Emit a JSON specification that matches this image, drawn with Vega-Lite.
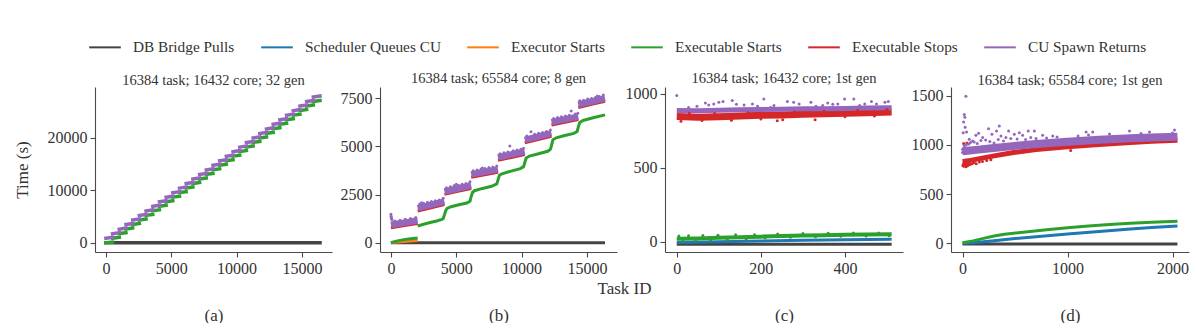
{
"$schema":"https://vega.github.io/schema/vega-lite/v6.json",
"background":"white",
"padding":{"left":13,"top":30,"right":0,"bottom":0},
"config":{
 "font":"Liberation Serif",
 "view":{"stroke":null},
 "axis":{"grid":false,"domainColor":"#4a4a4a","tickColor":"#4a4a4a","labelColor":"#333333","titleColor":"#333333","labelFont":"Liberation Serif","titleFont":"Liberation Serif","labelFontSize":16,"titleFontSize":17,"titleFontWeight":"normal","tickSize":5,"labelPadding":3,"domainWidth":1.1,"tickWidth":1.1},
 "title":{"font":"Liberation Serif","fontSize":14.5,"fontWeight":"normal","color":"#333333","offset":-1,"frame":"group"},
 "style":{"group-title":{"font":"Liberation Serif","fontSize":14.5,"fontWeight":"normal"}},
 "legend":{"labelFont":"Liberation Serif","labelFontSize":15.3,"labelColor":"#333333","labelOffset":11,"columnPadding":22}
},
"data":{"values":[
{"p":"a","s":"DB Bridge Pulls","g":0,"kind":"trend","x":0,"y":0},
{"p":"a","s":"DB Bridge Pulls","g":0,"kind":"trend","x":16383,"y":0},
{"p":"a","s":"Executable Starts","g":0,"kind":"trend","x":0,"y":0},{"p":"a","s":"Executable Starts","g":0,"kind":"trend","x":511,"y":100},
{"p":"a","s":"Executable Starts","g":1,"kind":"trend","x":512,"y":868},{"p":"a","s":"Executable Starts","g":1,"kind":"trend","x":1023,"y":1048},
{"p":"a","s":"Executable Starts","g":2,"kind":"trend","x":1024,"y":1736},{"p":"a","s":"Executable Starts","g":2,"kind":"trend","x":1535,"y":1916},
{"p":"a","s":"Executable Starts","g":3,"kind":"trend","x":1536,"y":2604},{"p":"a","s":"Executable Starts","g":3,"kind":"trend","x":2047,"y":2784},
{"p":"a","s":"Executable Starts","g":4,"kind":"trend","x":2048,"y":3472},{"p":"a","s":"Executable Starts","g":4,"kind":"trend","x":2559,"y":3652},
{"p":"a","s":"Executable Starts","g":5,"kind":"trend","x":2560,"y":4340},{"p":"a","s":"Executable Starts","g":5,"kind":"trend","x":3071,"y":4520},
{"p":"a","s":"Executable Starts","g":6,"kind":"trend","x":3072,"y":5208},{"p":"a","s":"Executable Starts","g":6,"kind":"trend","x":3583,"y":5388},
{"p":"a","s":"Executable Starts","g":7,"kind":"trend","x":3584,"y":6076},{"p":"a","s":"Executable Starts","g":7,"kind":"trend","x":4095,"y":6256},
{"p":"a","s":"Executable Starts","g":8,"kind":"trend","x":4096,"y":6944},{"p":"a","s":"Executable Starts","g":8,"kind":"trend","x":4607,"y":7124},
{"p":"a","s":"Executable Starts","g":9,"kind":"trend","x":4608,"y":7812},{"p":"a","s":"Executable Starts","g":9,"kind":"trend","x":5119,"y":7992},
{"p":"a","s":"Executable Starts","g":10,"kind":"trend","x":5120,"y":8680},{"p":"a","s":"Executable Starts","g":10,"kind":"trend","x":5631,"y":8860},
{"p":"a","s":"Executable Starts","g":11,"kind":"trend","x":5632,"y":9548},{"p":"a","s":"Executable Starts","g":11,"kind":"trend","x":6143,"y":9728},
{"p":"a","s":"Executable Starts","g":12,"kind":"trend","x":6144,"y":10416},{"p":"a","s":"Executable Starts","g":12,"kind":"trend","x":6655,"y":10596},
{"p":"a","s":"Executable Starts","g":13,"kind":"trend","x":6656,"y":11284},{"p":"a","s":"Executable Starts","g":13,"kind":"trend","x":7167,"y":11464},
{"p":"a","s":"Executable Starts","g":14,"kind":"trend","x":7168,"y":12152},{"p":"a","s":"Executable Starts","g":14,"kind":"trend","x":7679,"y":12332},
{"p":"a","s":"Executable Starts","g":15,"kind":"trend","x":7680,"y":13020},{"p":"a","s":"Executable Starts","g":15,"kind":"trend","x":8191,"y":13200},
{"p":"a","s":"Executable Starts","g":16,"kind":"trend","x":8192,"y":13888},{"p":"a","s":"Executable Starts","g":16,"kind":"trend","x":8703,"y":14068},
{"p":"a","s":"Executable Starts","g":17,"kind":"trend","x":8704,"y":14756},{"p":"a","s":"Executable Starts","g":17,"kind":"trend","x":9215,"y":14936},
{"p":"a","s":"Executable Starts","g":18,"kind":"trend","x":9216,"y":15624},{"p":"a","s":"Executable Starts","g":18,"kind":"trend","x":9727,"y":15804},
{"p":"a","s":"Executable Starts","g":19,"kind":"trend","x":9728,"y":16492},{"p":"a","s":"Executable Starts","g":19,"kind":"trend","x":10239,"y":16672},
{"p":"a","s":"Executable Starts","g":20,"kind":"trend","x":10240,"y":17360},{"p":"a","s":"Executable Starts","g":20,"kind":"trend","x":10751,"y":17540},
{"p":"a","s":"Executable Starts","g":21,"kind":"trend","x":10752,"y":18228},{"p":"a","s":"Executable Starts","g":21,"kind":"trend","x":11263,"y":18408},
{"p":"a","s":"Executable Starts","g":22,"kind":"trend","x":11264,"y":19096},{"p":"a","s":"Executable Starts","g":22,"kind":"trend","x":11775,"y":19276},
{"p":"a","s":"Executable Starts","g":23,"kind":"trend","x":11776,"y":19964},{"p":"a","s":"Executable Starts","g":23,"kind":"trend","x":12287,"y":20144},
{"p":"a","s":"Executable Starts","g":24,"kind":"trend","x":12288,"y":20832},{"p":"a","s":"Executable Starts","g":24,"kind":"trend","x":12799,"y":21012},
{"p":"a","s":"Executable Starts","g":25,"kind":"trend","x":12800,"y":21700},{"p":"a","s":"Executable Starts","g":25,"kind":"trend","x":13311,"y":21880},
{"p":"a","s":"Executable Starts","g":26,"kind":"trend","x":13312,"y":22568},{"p":"a","s":"Executable Starts","g":26,"kind":"trend","x":13823,"y":22748},
{"p":"a","s":"Executable Starts","g":27,"kind":"trend","x":13824,"y":23436},{"p":"a","s":"Executable Starts","g":27,"kind":"trend","x":14335,"y":23616},
{"p":"a","s":"Executable Starts","g":28,"kind":"trend","x":14336,"y":24304},{"p":"a","s":"Executable Starts","g":28,"kind":"trend","x":14847,"y":24484},
{"p":"a","s":"Executable Starts","g":29,"kind":"trend","x":14848,"y":25172},{"p":"a","s":"Executable Starts","g":29,"kind":"trend","x":15359,"y":25352},
{"p":"a","s":"Executable Starts","g":30,"kind":"trend","x":15360,"y":26040},{"p":"a","s":"Executable Starts","g":30,"kind":"trend","x":15871,"y":26220},
{"p":"a","s":"Executable Starts","g":31,"kind":"trend","x":15872,"y":26908},{"p":"a","s":"Executable Starts","g":31,"kind":"trend","x":16383,"y":27088},
{"p":"a","s":"CU Spawn Returns","g":0,"kind":"trend","x":0,"y":850},{"p":"a","s":"CU Spawn Returns","g":0,"kind":"trend","x":511,"y":1050},
{"p":"a","s":"CU Spawn Returns","g":1,"kind":"trend","x":512,"y":1718},{"p":"a","s":"CU Spawn Returns","g":1,"kind":"trend","x":1023,"y":1918},
{"p":"a","s":"CU Spawn Returns","g":2,"kind":"trend","x":1024,"y":2586},{"p":"a","s":"CU Spawn Returns","g":2,"kind":"trend","x":1535,"y":2786},
{"p":"a","s":"CU Spawn Returns","g":3,"kind":"trend","x":1536,"y":3454},{"p":"a","s":"CU Spawn Returns","g":3,"kind":"trend","x":2047,"y":3654},
{"p":"a","s":"CU Spawn Returns","g":4,"kind":"trend","x":2048,"y":4322},{"p":"a","s":"CU Spawn Returns","g":4,"kind":"trend","x":2559,"y":4522},
{"p":"a","s":"CU Spawn Returns","g":5,"kind":"trend","x":2560,"y":5190},{"p":"a","s":"CU Spawn Returns","g":5,"kind":"trend","x":3071,"y":5390},
{"p":"a","s":"CU Spawn Returns","g":6,"kind":"trend","x":3072,"y":6058},{"p":"a","s":"CU Spawn Returns","g":6,"kind":"trend","x":3583,"y":6258},
{"p":"a","s":"CU Spawn Returns","g":7,"kind":"trend","x":3584,"y":6926},{"p":"a","s":"CU Spawn Returns","g":7,"kind":"trend","x":4095,"y":7126},
{"p":"a","s":"CU Spawn Returns","g":8,"kind":"trend","x":4096,"y":7794},{"p":"a","s":"CU Spawn Returns","g":8,"kind":"trend","x":4607,"y":7994},
{"p":"a","s":"CU Spawn Returns","g":9,"kind":"trend","x":4608,"y":8662},{"p":"a","s":"CU Spawn Returns","g":9,"kind":"trend","x":5119,"y":8862},
{"p":"a","s":"CU Spawn Returns","g":10,"kind":"trend","x":5120,"y":9530},{"p":"a","s":"CU Spawn Returns","g":10,"kind":"trend","x":5631,"y":9730},
{"p":"a","s":"CU Spawn Returns","g":11,"kind":"trend","x":5632,"y":10398},{"p":"a","s":"CU Spawn Returns","g":11,"kind":"trend","x":6143,"y":10598},
{"p":"a","s":"CU Spawn Returns","g":12,"kind":"trend","x":6144,"y":11266},{"p":"a","s":"CU Spawn Returns","g":12,"kind":"trend","x":6655,"y":11466},
{"p":"a","s":"CU Spawn Returns","g":13,"kind":"trend","x":6656,"y":12134},{"p":"a","s":"CU Spawn Returns","g":13,"kind":"trend","x":7167,"y":12334},
{"p":"a","s":"CU Spawn Returns","g":14,"kind":"trend","x":7168,"y":13002},{"p":"a","s":"CU Spawn Returns","g":14,"kind":"trend","x":7679,"y":13202},
{"p":"a","s":"CU Spawn Returns","g":15,"kind":"trend","x":7680,"y":13870},{"p":"a","s":"CU Spawn Returns","g":15,"kind":"trend","x":8191,"y":14070},
{"p":"a","s":"CU Spawn Returns","g":16,"kind":"trend","x":8192,"y":14738},{"p":"a","s":"CU Spawn Returns","g":16,"kind":"trend","x":8703,"y":14938},
{"p":"a","s":"CU Spawn Returns","g":17,"kind":"trend","x":8704,"y":15606},{"p":"a","s":"CU Spawn Returns","g":17,"kind":"trend","x":9215,"y":15806},
{"p":"a","s":"CU Spawn Returns","g":18,"kind":"trend","x":9216,"y":16474},{"p":"a","s":"CU Spawn Returns","g":18,"kind":"trend","x":9727,"y":16674},
{"p":"a","s":"CU Spawn Returns","g":19,"kind":"trend","x":9728,"y":17342},{"p":"a","s":"CU Spawn Returns","g":19,"kind":"trend","x":10239,"y":17542},
{"p":"a","s":"CU Spawn Returns","g":20,"kind":"trend","x":10240,"y":18210},{"p":"a","s":"CU Spawn Returns","g":20,"kind":"trend","x":10751,"y":18410},
{"p":"a","s":"CU Spawn Returns","g":21,"kind":"trend","x":10752,"y":19078},{"p":"a","s":"CU Spawn Returns","g":21,"kind":"trend","x":11263,"y":19278},
{"p":"a","s":"CU Spawn Returns","g":22,"kind":"trend","x":11264,"y":19946},{"p":"a","s":"CU Spawn Returns","g":22,"kind":"trend","x":11775,"y":20146},
{"p":"a","s":"CU Spawn Returns","g":23,"kind":"trend","x":11776,"y":20814},{"p":"a","s":"CU Spawn Returns","g":23,"kind":"trend","x":12287,"y":21014},
{"p":"a","s":"CU Spawn Returns","g":24,"kind":"trend","x":12288,"y":21682},{"p":"a","s":"CU Spawn Returns","g":24,"kind":"trend","x":12799,"y":21882},
{"p":"a","s":"CU Spawn Returns","g":25,"kind":"trend","x":12800,"y":22550},{"p":"a","s":"CU Spawn Returns","g":25,"kind":"trend","x":13311,"y":22750},
{"p":"a","s":"CU Spawn Returns","g":26,"kind":"trend","x":13312,"y":23418},{"p":"a","s":"CU Spawn Returns","g":26,"kind":"trend","x":13823,"y":23618},
{"p":"a","s":"CU Spawn Returns","g":27,"kind":"trend","x":13824,"y":24286},{"p":"a","s":"CU Spawn Returns","g":27,"kind":"trend","x":14335,"y":24486},
{"p":"a","s":"CU Spawn Returns","g":28,"kind":"trend","x":14336,"y":25154},{"p":"a","s":"CU Spawn Returns","g":28,"kind":"trend","x":14847,"y":25354},
{"p":"a","s":"CU Spawn Returns","g":29,"kind":"trend","x":14848,"y":26022},{"p":"a","s":"CU Spawn Returns","g":29,"kind":"trend","x":15359,"y":26222},
{"p":"a","s":"CU Spawn Returns","g":30,"kind":"trend","x":15360,"y":26890},{"p":"a","s":"CU Spawn Returns","g":30,"kind":"trend","x":15871,"y":27090},
{"p":"a","s":"CU Spawn Returns","g":31,"kind":"trend","x":15872,"y":27758},{"p":"a","s":"CU Spawn Returns","g":31,"kind":"trend","x":16383,"y":27958},

{"p":"b","s":"DB Bridge Pulls","g":0,"kind":"trend","x":0,"y":0},
{"p":"b","s":"DB Bridge Pulls","g":0,"kind":"trend","x":16383,"y":0},
{"p":"b","s":"Executor Starts","g":0,"kind":"trend","x":0,"y":0},
{"p":"b","s":"Executor Starts","g":0,"kind":"trend","x":500,"y":30},
{"p":"b","s":"Executor Starts","g":0,"kind":"trend","x":1000,"y":60},
{"p":"b","s":"Executor Starts","g":0,"kind":"trend","x":1500,"y":90},
{"p":"b","s":"Executor Starts","g":0,"kind":"trend","x":2047,"y":120},
{"p":"b","s":"Executable Starts","g":0,"kind":"trend","x":0,"y":0},
{"p":"b","s":"Executable Starts","g":0,"kind":"trend","x":200,"y":40},
{"p":"b","s":"Executable Starts","g":0,"kind":"trend","x":500,"y":95},
{"p":"b","s":"Executable Starts","g":0,"kind":"trend","x":1000,"y":160},
{"p":"b","s":"Executable Starts","g":0,"kind":"trend","x":1500,"y":210},
{"p":"b","s":"Executable Starts","g":0,"kind":"trend","x":2047,"y":250},
{"p":"b","s":"Executable Starts","g":1,"kind":"trend","x":2048,"y":870},
{"p":"b","s":"Executable Starts","g":1,"kind":"trend","x":2500,"y":960},
{"p":"b","s":"Executable Starts","g":1,"kind":"trend","x":3000,"y":1050},
{"p":"b","s":"Executable Starts","g":1,"kind":"trend","x":3500,"y":1130},
{"p":"b","s":"Executable Starts","g":1,"kind":"trend","x":3900,"y":1210},
{"p":"b","s":"Executable Starts","g":1,"kind":"trend","x":4000,"y":1260},
{"p":"b","s":"Executable Starts","g":1,"kind":"trend","x":4096,"y":1450},
{"p":"b","s":"Executable Starts","g":1,"kind":"trend","x":4200,"y":1680},
{"p":"b","s":"Executable Starts","g":1,"kind":"trend","x":4300,"y":1780},
{"p":"b","s":"Executable Starts","g":1,"kind":"trend","x":4600,"y":1870},
{"p":"b","s":"Executable Starts","g":1,"kind":"trend","x":5200,"y":1970},
{"p":"b","s":"Executable Starts","g":1,"kind":"trend","x":5800,"y":2060},
{"p":"b","s":"Executable Starts","g":1,"kind":"trend","x":6050,"y":2150},
{"p":"b","s":"Executable Starts","g":1,"kind":"trend","x":6144,"y":2400},
{"p":"b","s":"Executable Starts","g":1,"kind":"trend","x":6250,"y":2620},
{"p":"b","s":"Executable Starts","g":1,"kind":"trend","x":6400,"y":2700},
{"p":"b","s":"Executable Starts","g":1,"kind":"trend","x":7000,"y":2820},
{"p":"b","s":"Executable Starts","g":1,"kind":"trend","x":7700,"y":2930},
{"p":"b","s":"Executable Starts","g":1,"kind":"trend","x":8100,"y":3050},
{"p":"b","s":"Executable Starts","g":1,"kind":"trend","x":8192,"y":3250},
{"p":"b","s":"Executable Starts","g":1,"kind":"trend","x":8300,"y":3500},
{"p":"b","s":"Executable Starts","g":1,"kind":"trend","x":8500,"y":3580},
{"p":"b","s":"Executable Starts","g":1,"kind":"trend","x":9200,"y":3720},
{"p":"b","s":"Executable Starts","g":1,"kind":"trend","x":9900,"y":3850},
{"p":"b","s":"Executable Starts","g":1,"kind":"trend","x":10150,"y":3950},
{"p":"b","s":"Executable Starts","g":1,"kind":"trend","x":10240,"y":4150},
{"p":"b","s":"Executable Starts","g":1,"kind":"trend","x":10350,"y":4400},
{"p":"b","s":"Executable Starts","g":1,"kind":"trend","x":10600,"y":4500},
{"p":"b","s":"Executable Starts","g":1,"kind":"trend","x":11300,"y":4620},
{"p":"b","s":"Executable Starts","g":1,"kind":"trend","x":12000,"y":4750},
{"p":"b","s":"Executable Starts","g":1,"kind":"trend","x":12200,"y":4850},
{"p":"b","s":"Executable Starts","g":1,"kind":"trend","x":12288,"y":5050},
{"p":"b","s":"Executable Starts","g":1,"kind":"trend","x":12400,"y":5350},
{"p":"b","s":"Executable Starts","g":1,"kind":"trend","x":12650,"y":5450},
{"p":"b","s":"Executable Starts","g":1,"kind":"trend","x":13300,"y":5570},
{"p":"b","s":"Executable Starts","g":1,"kind":"trend","x":14000,"y":5680},
{"p":"b","s":"Executable Starts","g":1,"kind":"trend","x":14250,"y":5780},
{"p":"b","s":"Executable Starts","g":1,"kind":"trend","x":14336,"y":6000},
{"p":"b","s":"Executable Starts","g":1,"kind":"trend","x":14450,"y":6250},
{"p":"b","s":"Executable Starts","g":1,"kind":"trend","x":14700,"y":6350},
{"p":"b","s":"Executable Starts","g":1,"kind":"trend","x":15400,"y":6480},
{"p":"b","s":"Executable Starts","g":1,"kind":"trend","x":16383,"y":6640},
{"p":"b","s":"Executable Stops","g":0,"kind":"trend","x":0,"y":780},{"p":"b","s":"Executable Stops","g":0,"kind":"trend","x":1024,"y":890},{"p":"b","s":"Executable Stops","g":0,"kind":"trend","x":2047,"y":1000},
{"p":"b","s":"Executable Stops","g":1,"kind":"trend","x":2048,"y":1650},{"p":"b","s":"Executable Stops","g":1,"kind":"trend","x":3072,"y":1815},{"p":"b","s":"Executable Stops","g":1,"kind":"trend","x":4095,"y":1980},
{"p":"b","s":"Executable Stops","g":2,"kind":"trend","x":4096,"y":2510},{"p":"b","s":"Executable Stops","g":2,"kind":"trend","x":5120,"y":2665},{"p":"b","s":"Executable Stops","g":2,"kind":"trend","x":6143,"y":2820},
{"p":"b","s":"Executable Stops","g":3,"kind":"trend","x":6144,"y":3400},{"p":"b","s":"Executable Stops","g":3,"kind":"trend","x":7168,"y":3530},{"p":"b","s":"Executable Stops","g":3,"kind":"trend","x":8191,"y":3660},
{"p":"b","s":"Executable Stops","g":4,"kind":"trend","x":8192,"y":4280},{"p":"b","s":"Executable Stops","g":4,"kind":"trend","x":9216,"y":4430},{"p":"b","s":"Executable Stops","g":4,"kind":"trend","x":10239,"y":4580},
{"p":"b","s":"Executable Stops","g":5,"kind":"trend","x":10240,"y":5190},{"p":"b","s":"Executable Stops","g":5,"kind":"trend","x":11264,"y":5360},{"p":"b","s":"Executable Stops","g":5,"kind":"trend","x":12287,"y":5530},
{"p":"b","s":"Executable Stops","g":6,"kind":"trend","x":12288,"y":6110},{"p":"b","s":"Executable Stops","g":6,"kind":"trend","x":13312,"y":6255},{"p":"b","s":"Executable Stops","g":6,"kind":"trend","x":14335,"y":6400},
{"p":"b","s":"Executable Stops","g":7,"kind":"trend","x":14336,"y":7020},{"p":"b","s":"Executable Stops","g":7,"kind":"trend","x":15360,"y":7185},{"p":"b","s":"Executable Stops","g":7,"kind":"trend","x":16383,"y":7350},
{"p":"b","s":"CU Spawn Returns","g":0,"kind":"trend","x":0,"y":930},{"p":"b","s":"CU Spawn Returns","g":0,"kind":"trend","x":1024,"y":1040},{"p":"b","s":"CU Spawn Returns","g":0,"kind":"trend","x":2047,"y":1150},
{"p":"b","s":"CU Spawn Returns","g":1,"kind":"trend","x":2048,"y":1800},{"p":"b","s":"CU Spawn Returns","g":1,"kind":"trend","x":3072,"y":1965},{"p":"b","s":"CU Spawn Returns","g":1,"kind":"trend","x":4095,"y":2130},
{"p":"b","s":"CU Spawn Returns","g":2,"kind":"trend","x":4096,"y":2660},{"p":"b","s":"CU Spawn Returns","g":2,"kind":"trend","x":5120,"y":2815},{"p":"b","s":"CU Spawn Returns","g":2,"kind":"trend","x":6143,"y":2970},
{"p":"b","s":"CU Spawn Returns","g":3,"kind":"trend","x":6144,"y":3550},{"p":"b","s":"CU Spawn Returns","g":3,"kind":"trend","x":7168,"y":3680},{"p":"b","s":"CU Spawn Returns","g":3,"kind":"trend","x":8191,"y":3810},
{"p":"b","s":"CU Spawn Returns","g":4,"kind":"trend","x":8192,"y":4430},{"p":"b","s":"CU Spawn Returns","g":4,"kind":"trend","x":9216,"y":4580},{"p":"b","s":"CU Spawn Returns","g":4,"kind":"trend","x":10239,"y":4730},
{"p":"b","s":"CU Spawn Returns","g":5,"kind":"trend","x":10240,"y":5340},{"p":"b","s":"CU Spawn Returns","g":5,"kind":"trend","x":11264,"y":5510},{"p":"b","s":"CU Spawn Returns","g":5,"kind":"trend","x":12287,"y":5680},
{"p":"b","s":"CU Spawn Returns","g":6,"kind":"trend","x":12288,"y":6260},{"p":"b","s":"CU Spawn Returns","g":6,"kind":"trend","x":13312,"y":6405},{"p":"b","s":"CU Spawn Returns","g":6,"kind":"trend","x":14335,"y":6550},
{"p":"b","s":"CU Spawn Returns","g":7,"kind":"trend","x":14336,"y":7170},{"p":"b","s":"CU Spawn Returns","g":7,"kind":"trend","x":15360,"y":7335},{"p":"b","s":"CU Spawn Returns","g":7,"kind":"trend","x":16383,"y":7500},
{"p":"b","s":"CU Spawn Returns","kind":"dot","x":0,"y":1480},{"p":"b","s":"CU Spawn Returns","kind":"dot","x":15,"y":1380},{"p":"b","s":"CU Spawn Returns","kind":"dot","x":30,"y":1300},{"p":"b","s":"CU Spawn Returns","kind":"dot","x":50,"y":1250},{"p":"b","s":"CU Spawn Returns","kind":"dot","x":80,"y":1200},
{"p":"b","s":"CU Spawn Returns","kind":"dot","x":300,"y":1130},{"p":"b","s":"CU Spawn Returns","kind":"dot","x":700,"y":1170},{"p":"b","s":"CU Spawn Returns","kind":"dot","x":1100,"y":1220},{"p":"b","s":"CU Spawn Returns","kind":"dot","x":1500,"y":1260},{"p":"b","s":"CU Spawn Returns","kind":"dot","x":1900,"y":1310},
{"p":"b","s":"CU Spawn Returns","kind":"dot","x":2200,"y":2010},{"p":"b","s":"CU Spawn Returns","kind":"dot","x":2350,"y":2080},{"p":"b","s":"CU Spawn Returns","kind":"dot","x":2500,"y":2050},{"p":"b","s":"CU Spawn Returns","kind":"dot","x":2800,"y":2100},{"p":"b","s":"CU Spawn Returns","kind":"dot","x":3100,"y":2140},{"p":"b","s":"CU Spawn Returns","kind":"dot","x":3400,"y":2180},{"p":"b","s":"CU Spawn Returns","kind":"dot","x":3700,"y":2220},{"p":"b","s":"CU Spawn Returns","kind":"dot","x":4000,"y":2310},
{"p":"b","s":"CU Spawn Returns","kind":"dot","x":4250,"y":2860},{"p":"b","s":"CU Spawn Returns","kind":"dot","x":4550,"y":2900},{"p":"b","s":"CU Spawn Returns","kind":"dot","x":4850,"y":2970},{"p":"b","s":"CU Spawn Returns","kind":"dot","x":5000,"y":3030},{"p":"b","s":"CU Spawn Returns","kind":"dot","x":5150,"y":2990},{"p":"b","s":"CU Spawn Returns","kind":"dot","x":5450,"y":3040},{"p":"b","s":"CU Spawn Returns","kind":"dot","x":5750,"y":3080},{"p":"b","s":"CU Spawn Returns","kind":"dot","x":6050,"y":3160},
{"p":"b","s":"CU Spawn Returns","kind":"dot","x":6300,"y":3740},{"p":"b","s":"CU Spawn Returns","kind":"dot","x":6600,"y":3780},{"p":"b","s":"CU Spawn Returns","kind":"dot","x":6900,"y":3830},{"p":"b","s":"CU Spawn Returns","kind":"dot","x":7000,"y":3880},{"p":"b","s":"CU Spawn Returns","kind":"dot","x":7200,"y":3860},{"p":"b","s":"CU Spawn Returns","kind":"dot","x":7500,"y":3910},{"p":"b","s":"CU Spawn Returns","kind":"dot","x":7800,"y":3930},{"p":"b","s":"CU Spawn Returns","kind":"dot","x":8100,"y":3990},
{"p":"b","s":"CU Spawn Returns","kind":"dot","x":8350,"y":4620},{"p":"b","s":"CU Spawn Returns","kind":"dot","x":8650,"y":4670},{"p":"b","s":"CU Spawn Returns","kind":"dot","x":8950,"y":4710},{"p":"b","s":"CU Spawn Returns","kind":"dot","x":9100,"y":5020},{"p":"b","s":"CU Spawn Returns","kind":"dot","x":9350,"y":4780},{"p":"b","s":"CU Spawn Returns","kind":"dot","x":9650,"y":4810},{"p":"b","s":"CU Spawn Returns","kind":"dot","x":9950,"y":4860},{"p":"b","s":"CU Spawn Returns","kind":"dot","x":10150,"y":4910},
{"p":"b","s":"CU Spawn Returns","kind":"dot","x":10400,"y":5540},{"p":"b","s":"CU Spawn Returns","kind":"dot","x":10718,"y":5768},{"p":"b","s":"CU Spawn Returns","kind":"dot","x":11000,"y":5640},{"p":"b","s":"CU Spawn Returns","kind":"dot","x":11300,"y":5680},{"p":"b","s":"CU Spawn Returns","kind":"dot","x":11600,"y":5730},{"p":"b","s":"CU Spawn Returns","kind":"dot","x":11900,"y":5780},{"p":"b","s":"CU Spawn Returns","kind":"dot","x":12200,"y":5850},
{"p":"b","s":"CU Spawn Returns","kind":"dot","x":12450,"y":6450},{"p":"b","s":"CU Spawn Returns","kind":"dot","x":12750,"y":6500},{"p":"b","s":"CU Spawn Returns","kind":"dot","x":13050,"y":6540},{"p":"b","s":"CU Spawn Returns","kind":"dot","x":13350,"y":6580},{"p":"b","s":"CU Spawn Returns","kind":"dot","x":13650,"y":6620},{"p":"b","s":"CU Spawn Returns","kind":"dot","x":13794,"y":6840},{"p":"b","s":"CU Spawn Returns","kind":"dot","x":14100,"y":6680},{"p":"b","s":"CU Spawn Returns","kind":"dot","x":14300,"y":6730},
{"p":"b","s":"CU Spawn Returns","kind":"dot","x":14450,"y":7370},{"p":"b","s":"CU Spawn Returns","kind":"dot","x":14750,"y":7400},{"p":"b","s":"CU Spawn Returns","kind":"dot","x":15050,"y":7460},{"p":"b","s":"CU Spawn Returns","kind":"dot","x":15350,"y":7490},{"p":"b","s":"CU Spawn Returns","kind":"dot","x":15650,"y":7540},{"p":"b","s":"CU Spawn Returns","kind":"dot","x":15800,"y":7620},{"p":"b","s":"CU Spawn Returns","kind":"dot","x":15950,"y":7600},{"p":"b","s":"CU Spawn Returns","kind":"dot","x":16250,"y":7670},

{"p":"c","s":"DB Bridge Pulls","g":0,"kind":"trend","x":0,"y":-17},
{"p":"c","s":"DB Bridge Pulls","g":0,"kind":"trend","x":511,"y":-17},
{"p":"c","s":"Scheduler Queues CU","g":0,"kind":"trend","x":0,"y":-6},{"p":"c","s":"Scheduler Queues CU","g":0,"kind":"trend","x":100,"y":-1},{"p":"c","s":"Scheduler Queues CU","g":0,"kind":"trend","x":200,"y":4},{"p":"c","s":"Scheduler Queues CU","g":0,"kind":"trend","x":300,"y":9},{"p":"c","s":"Scheduler Queues CU","g":0,"kind":"trend","x":400,"y":13},{"p":"c","s":"Scheduler Queues CU","g":0,"kind":"trend","x":511,"y":17},
{"p":"c","s":"Executable Starts","g":0,"kind":"trend","x":0,"y":20},{"p":"c","s":"Executable Starts","g":0,"kind":"trend","x":50,"y":22},{"p":"c","s":"Executable Starts","g":0,"kind":"trend","x":100,"y":27},{"p":"c","s":"Executable Starts","g":0,"kind":"trend","x":150,"y":30},{"p":"c","s":"Executable Starts","g":0,"kind":"trend","x":200,"y":34},{"p":"c","s":"Executable Starts","g":0,"kind":"trend","x":250,"y":38},{"p":"c","s":"Executable Starts","g":0,"kind":"trend","x":300,"y":42},{"p":"c","s":"Executable Starts","g":0,"kind":"trend","x":350,"y":44},{"p":"c","s":"Executable Starts","g":0,"kind":"trend","x":400,"y":46},{"p":"c","s":"Executable Starts","g":0,"kind":"trend","x":450,"y":48},{"p":"c","s":"Executable Starts","g":0,"kind":"trend","x":511,"y":50},
{"p":"c","s":"Executable Stops","g":0,"kind":"trend","x":0,"y":848},{"p":"c","s":"Executable Stops","g":0,"kind":"trend","x":50,"y":842},{"p":"c","s":"Executable Stops","g":0,"kind":"trend","x":100,"y":845},{"p":"c","s":"Executable Stops","g":0,"kind":"trend","x":150,"y":850},{"p":"c","s":"Executable Stops","g":0,"kind":"trend","x":200,"y":855},{"p":"c","s":"Executable Stops","g":0,"kind":"trend","x":250,"y":858},{"p":"c","s":"Executable Stops","g":0,"kind":"trend","x":300,"y":862},{"p":"c","s":"Executable Stops","g":0,"kind":"trend","x":350,"y":866},{"p":"c","s":"Executable Stops","g":0,"kind":"trend","x":400,"y":869},{"p":"c","s":"Executable Stops","g":0,"kind":"trend","x":450,"y":873},{"p":"c","s":"Executable Stops","g":0,"kind":"trend","x":511,"y":878},
{"p":"c","s":"CU Spawn Returns","g":0,"kind":"trend","x":0,"y":888},{"p":"c","s":"CU Spawn Returns","g":0,"kind":"trend","x":50,"y":886},{"p":"c","s":"CU Spawn Returns","g":0,"kind":"trend","x":100,"y":890},{"p":"c","s":"CU Spawn Returns","g":0,"kind":"trend","x":150,"y":893},{"p":"c","s":"CU Spawn Returns","g":0,"kind":"trend","x":200,"y":895},{"p":"c","s":"CU Spawn Returns","g":0,"kind":"trend","x":250,"y":897},{"p":"c","s":"CU Spawn Returns","g":0,"kind":"trend","x":300,"y":899},{"p":"c","s":"CU Spawn Returns","g":0,"kind":"trend","x":350,"y":900},{"p":"c","s":"CU Spawn Returns","g":0,"kind":"trend","x":400,"y":902},{"p":"c","s":"CU Spawn Returns","g":0,"kind":"trend","x":450,"y":904},{"p":"c","s":"CU Spawn Returns","g":0,"kind":"trend","x":511,"y":906},
{"p":"c","s":"Executable Starts","kind":"dot","x":5,"y":38},{"p":"c","s":"Executable Starts","kind":"dot","x":15,"y":5},{"p":"c","s":"Executable Starts","kind":"dot","x":28,"y":40},{"p":"c","s":"Executable Starts","kind":"dot","x":45,"y":8},{"p":"c","s":"Executable Starts","kind":"dot","x":62,"y":42},{"p":"c","s":"Executable Starts","kind":"dot","x":80,"y":10},{"p":"c","s":"Executable Starts","kind":"dot","x":98,"y":44},{"p":"c","s":"Executable Starts","kind":"dot","x":120,"y":15},{"p":"c","s":"Executable Starts","kind":"dot","x":140,"y":46},{"p":"c","s":"Executable Starts","kind":"dot","x":165,"y":18},{"p":"c","s":"Executable Starts","kind":"dot","x":185,"y":47},{"p":"c","s":"Executable Starts","kind":"dot","x":210,"y":25},{"p":"c","s":"Executable Starts","kind":"dot","x":240,"y":52},{"p":"c","s":"Executable Starts","kind":"dot","x":270,"y":30},{"p":"c","s":"Executable Starts","kind":"dot","x":300,"y":56},{"p":"c","s":"Executable Starts","kind":"dot","x":330,"y":33},{"p":"c","s":"Executable Starts","kind":"dot","x":360,"y":57},{"p":"c","s":"Executable Starts","kind":"dot","x":390,"y":36},{"p":"c","s":"Executable Starts","kind":"dot","x":420,"y":58},{"p":"c","s":"Executable Starts","kind":"dot","x":450,"y":38},{"p":"c","s":"Executable Starts","kind":"dot","x":480,"y":59},{"p":"c","s":"Executable Starts","kind":"dot","x":505,"y":40},
{"p":"c","s":"Executable Stops","kind":"dot","x":10,"y":815},{"p":"c","s":"Executable Stops","kind":"dot","x":30,"y":870},{"p":"c","s":"Executable Stops","kind":"dot","x":60,"y":820},{"p":"c","s":"Executable Stops","kind":"dot","x":90,"y":868},{"p":"c","s":"Executable Stops","kind":"dot","x":130,"y":822},{"p":"c","s":"Executable Stops","kind":"dot","x":170,"y":872},{"p":"c","s":"Executable Stops","kind":"dot","x":200,"y":830},{"p":"c","s":"Executable Stops","kind":"dot","x":239,"y":819},{"p":"c","s":"Executable Stops","kind":"dot","x":252,"y":826},{"p":"c","s":"Executable Stops","kind":"dot","x":280,"y":878},{"p":"c","s":"Executable Stops","kind":"dot","x":329,"y":826},{"p":"c","s":"Executable Stops","kind":"dot","x":350,"y":882},{"p":"c","s":"Executable Stops","kind":"dot","x":400,"y":845},{"p":"c","s":"Executable Stops","kind":"dot","x":430,"y":888},{"p":"c","s":"Executable Stops","kind":"dot","x":470,"y":850},{"p":"c","s":"Executable Stops","kind":"dot","x":500,"y":895},
{"p":"c","s":"CU Spawn Returns","kind":"dot","x":0,"y":989},{"p":"c","s":"CU Spawn Returns","kind":"dot","x":28,"y":909},{"p":"c","s":"CU Spawn Returns","kind":"dot","x":48,"y":916},{"p":"c","s":"CU Spawn Returns","kind":"dot","x":68,"y":939},{"p":"c","s":"CU Spawn Returns","kind":"dot","x":76,"y":925},{"p":"c","s":"CU Spawn Returns","kind":"dot","x":88,"y":932},{"p":"c","s":"CU Spawn Returns","kind":"dot","x":100,"y":943},{"p":"c","s":"CU Spawn Returns","kind":"dot","x":110,"y":948},{"p":"c","s":"CU Spawn Returns","kind":"dot","x":132,"y":955},{"p":"c","s":"CU Spawn Returns","kind":"dot","x":142,"y":930},{"p":"c","s":"CU Spawn Returns","kind":"dot","x":160,"y":925},{"p":"c","s":"CU Spawn Returns","kind":"dot","x":180,"y":932},{"p":"c","s":"CU Spawn Returns","kind":"dot","x":192,"y":916},{"p":"c","s":"CU Spawn Returns","kind":"dot","x":207,"y":966},{"p":"c","s":"CU Spawn Returns","kind":"dot","x":223,"y":909},{"p":"c","s":"CU Spawn Returns","kind":"dot","x":231,"y":921},{"p":"c","s":"CU Spawn Returns","kind":"dot","x":263,"y":948},{"p":"c","s":"CU Spawn Returns","kind":"dot","x":278,"y":943},{"p":"c","s":"CU Spawn Returns","kind":"dot","x":291,"y":932},{"p":"c","s":"CU Spawn Returns","kind":"dot","x":319,"y":943},{"p":"c","s":"CU Spawn Returns","kind":"dot","x":331,"y":916},{"p":"c","s":"CU Spawn Returns","kind":"dot","x":347,"y":921},{"p":"c","s":"CU Spawn Returns","kind":"dot","x":359,"y":939},{"p":"c","s":"CU Spawn Returns","kind":"dot","x":371,"y":930},{"p":"c","s":"CU Spawn Returns","kind":"dot","x":383,"y":932},{"p":"c","s":"CU Spawn Returns","kind":"dot","x":399,"y":966},{"p":"c","s":"CU Spawn Returns","kind":"dot","x":421,"y":966},{"p":"c","s":"CU Spawn Returns","kind":"dot","x":435,"y":921},{"p":"c","s":"CU Spawn Returns","kind":"dot","x":447,"y":932},{"p":"c","s":"CU Spawn Returns","kind":"dot","x":463,"y":948},{"p":"c","s":"CU Spawn Returns","kind":"dot","x":475,"y":932},{"p":"c","s":"CU Spawn Returns","kind":"dot","x":495,"y":943},{"p":"c","s":"CU Spawn Returns","kind":"dot","x":503,"y":948},

{"p":"d","s":"DB Bridge Pulls","g":0,"kind":"trend","x":0,"y":-8},
{"p":"d","s":"DB Bridge Pulls","g":0,"kind":"trend","x":2047,"y":-8},
{"p":"d","s":"Scheduler Queues CU","g":0,"kind":"trend","x":0,"y":0},{"p":"d","s":"Scheduler Queues CU","g":0,"kind":"trend","x":100,"y":5},{"p":"d","s":"Scheduler Queues CU","g":0,"kind":"trend","x":200,"y":15},{"p":"d","s":"Scheduler Queues CU","g":0,"kind":"trend","x":300,"y":27},{"p":"d","s":"Scheduler Queues CU","g":0,"kind":"trend","x":500,"y":48},{"p":"d","s":"Scheduler Queues CU","g":0,"kind":"trend","x":700,"y":67},{"p":"d","s":"Scheduler Queues CU","g":0,"kind":"trend","x":1000,"y":94},{"p":"d","s":"Scheduler Queues CU","g":0,"kind":"trend","x":1300,"y":121},{"p":"d","s":"Scheduler Queues CU","g":0,"kind":"trend","x":1600,"y":146},{"p":"d","s":"Scheduler Queues CU","g":0,"kind":"trend","x":1800,"y":162},{"p":"d","s":"Scheduler Queues CU","g":0,"kind":"trend","x":2047,"y":177},
{"p":"d","s":"Executable Starts","g":0,"kind":"trend","x":0,"y":5},{"p":"d","s":"Executable Starts","g":0,"kind":"trend","x":100,"y":25},{"p":"d","s":"Executable Starts","g":0,"kind":"trend","x":200,"y":50},{"p":"d","s":"Executable Starts","g":0,"kind":"trend","x":300,"y":75},{"p":"d","s":"Executable Starts","g":0,"kind":"trend","x":400,"y":92},{"p":"d","s":"Executable Starts","g":0,"kind":"trend","x":600,"y":116},{"p":"d","s":"Executable Starts","g":0,"kind":"trend","x":800,"y":138},{"p":"d","s":"Executable Starts","g":0,"kind":"trend","x":1000,"y":158},{"p":"d","s":"Executable Starts","g":0,"kind":"trend","x":1200,"y":176},{"p":"d","s":"Executable Starts","g":0,"kind":"trend","x":1400,"y":191},{"p":"d","s":"Executable Starts","g":0,"kind":"trend","x":1600,"y":204},{"p":"d","s":"Executable Starts","g":0,"kind":"trend","x":1800,"y":214},{"p":"d","s":"Executable Starts","g":0,"kind":"trend","x":2047,"y":225},
{"p":"d","s":"Executable Stops","g":0,"kind":"trend","x":0,"y":830},{"p":"d","s":"Executable Stops","g":0,"kind":"trend","x":50,"y":838},{"p":"d","s":"Executable Stops","g":0,"kind":"trend","x":150,"y":858},{"p":"d","s":"Executable Stops","g":0,"kind":"trend","x":300,"y":888},{"p":"d","s":"Executable Stops","g":0,"kind":"trend","x":500,"y":925},{"p":"d","s":"Executable Stops","g":0,"kind":"trend","x":700,"y":952},{"p":"d","s":"Executable Stops","g":0,"kind":"trend","x":1000,"y":982},{"p":"d","s":"Executable Stops","g":0,"kind":"trend","x":1300,"y":1005},{"p":"d","s":"Executable Stops","g":0,"kind":"trend","x":1600,"y":1025},{"p":"d","s":"Executable Stops","g":0,"kind":"trend","x":1800,"y":1036},{"p":"d","s":"Executable Stops","g":0,"kind":"trend","x":2047,"y":1048},
{"p":"d","s":"CU Spawn Returns","g":0,"kind":"trend","x":0,"y":935},{"p":"d","s":"CU Spawn Returns","g":0,"kind":"trend","x":50,"y":940},{"p":"d","s":"CU Spawn Returns","g":0,"kind":"trend","x":150,"y":952},{"p":"d","s":"CU Spawn Returns","g":0,"kind":"trend","x":300,"y":968},{"p":"d","s":"CU Spawn Returns","g":0,"kind":"trend","x":500,"y":990},{"p":"d","s":"CU Spawn Returns","g":0,"kind":"trend","x":700,"y":1008},{"p":"d","s":"CU Spawn Returns","g":0,"kind":"trend","x":1000,"y":1032},{"p":"d","s":"CU Spawn Returns","g":0,"kind":"trend","x":1300,"y":1052},{"p":"d","s":"CU Spawn Returns","g":0,"kind":"trend","x":1600,"y":1067},{"p":"d","s":"CU Spawn Returns","g":0,"kind":"trend","x":1800,"y":1074},{"p":"d","s":"CU Spawn Returns","g":0,"kind":"trend","x":2047,"y":1082},
{"p":"d","s":"Executable Stops","kind":"dot","x":3,"y":790},{"p":"d","s":"Executable Stops","kind":"dot","x":8,"y":805},{"p":"d","s":"Executable Stops","kind":"dot","x":12,"y":782},{"p":"d","s":"Executable Stops","kind":"dot","x":18,"y":812},{"p":"d","s":"Executable Stops","kind":"dot","x":25,"y":795},{"p":"d","s":"Executable Stops","kind":"dot","x":33,"y":778},{"p":"d","s":"Executable Stops","kind":"dot","x":40,"y":800},{"p":"d","s":"Executable Stops","kind":"dot","x":48,"y":788},{"p":"d","s":"Executable Stops","kind":"dot","x":55,"y":815},{"p":"d","s":"Executable Stops","kind":"dot","x":65,"y":798},{"p":"d","s":"Executable Stops","kind":"dot","x":80,"y":806},{"p":"d","s":"Executable Stops","kind":"dot","x":95,"y":812},{"p":"d","s":"Executable Stops","kind":"dot","x":110,"y":820},{"p":"d","s":"Executable Stops","kind":"dot","x":130,"y":808},{"p":"d","s":"Executable Stops","kind":"dot","x":160,"y":825},{"p":"d","s":"Executable Stops","kind":"dot","x":190,"y":832},{"p":"d","s":"Executable Stops","kind":"dot","x":230,"y":842},{"p":"d","s":"Executable Stops","kind":"dot","x":270,"y":850},{"p":"d","s":"Executable Stops","kind":"dot","x":1030,"y":942},{"p":"d","s":"Executable Stops","kind":"dot","x":41,"y":1019},{"p":"d","s":"Executable Stops","kind":"dot","x":10,"y":1015},
{"p":"d","s":"CU Spawn Returns","kind":"dot","x":32,"y":1493},{"p":"d","s":"CU Spawn Returns","kind":"dot","x":16,"y":1309},{"p":"d","s":"CU Spawn Returns","kind":"dot","x":22,"y":1282},{"p":"d","s":"CU Spawn Returns","kind":"dot","x":10,"y":1232},{"p":"d","s":"CU Spawn Returns","kind":"dot","x":6,"y":1124},{"p":"d","s":"CU Spawn Returns","kind":"dot","x":38,"y":1131},{"p":"d","s":"CU Spawn Returns","kind":"dot","x":127,"y":1097},{"p":"d","s":"CU Spawn Returns","kind":"dot","x":153,"y":1118},{"p":"d","s":"CU Spawn Returns","kind":"dot","x":248,"y":1165},{"p":"d","s":"CU Spawn Returns","kind":"dot","x":280,"y":1107},{"p":"d","s":"CU Spawn Returns","kind":"dot","x":324,"y":1141},{"p":"d","s":"CU Spawn Returns","kind":"dot","x":350,"y":1191},{"p":"d","s":"CU Spawn Returns","kind":"dot","x":366,"y":1091},{"p":"d","s":"CU Spawn Returns","kind":"dot","x":439,"y":1141},{"p":"d","s":"CU Spawn Returns","kind":"dot","x":493,"y":1107},{"p":"d","s":"CU Spawn Returns","kind":"dot","x":541,"y":1124},{"p":"d","s":"CU Spawn Returns","kind":"dot","x":572,"y":1097},{"p":"d","s":"CU Spawn Returns","kind":"dot","x":626,"y":1141},{"p":"d","s":"CU Spawn Returns","kind":"dot","x":684,"y":1141},{"p":"d","s":"CU Spawn Returns","kind":"dot","x":763,"y":1097},{"p":"d","s":"CU Spawn Returns","kind":"dot","x":859,"y":1091},{"p":"d","s":"CU Spawn Returns","kind":"dot","x":1177,"y":1131},{"p":"d","s":"CU Spawn Returns","kind":"dot","x":1240,"y":1131},{"p":"d","s":"CU Spawn Returns","kind":"dot","x":1590,"y":1141},{"p":"d","s":"CU Spawn Returns","kind":"dot","x":1781,"y":1131},{"p":"d","s":"CU Spawn Returns","kind":"dot","x":2019,"y":1151},{"p":"d","s":"CU Spawn Returns","kind":"dot","x":191,"y":1074},{"p":"d","s":"CU Spawn Returns","kind":"dot","x":64,"y":1057},{"p":"d","s":"CU Spawn Returns","kind":"dot","x":95,"y":1040},{"p":"d","s":"CU Spawn Returns","kind":"dot","x":413,"y":1074},{"p":"d","s":"CU Spawn Returns","kind":"dot","x":700,"y":1064},{"p":"d","s":"CU Spawn Returns","kind":"dot","x":986,"y":1057},{"p":"d","s":"CU Spawn Returns","kind":"dot","x":1304,"y":1074},{"p":"d","s":"CU Spawn Returns","kind":"dot","x":1463,"y":1081},{"p":"d","s":"CU Spawn Returns","kind":"dot","x":1654,"y":1091},{"p":"d","s":"CU Spawn Returns","kind":"dot","x":1844,"y":1097},{"p":"d","s":"CU Spawn Returns","kind":"dot","x":1940,"y":1091},{"p":"d","s":"CU Spawn Returns","kind":"dot","x":0,"y":956},{"p":"d","s":"CU Spawn Returns","kind":"dot","x":16,"y":990},{"p":"d","s":"CU Spawn Returns","kind":"dot","x":0,"y":923},{"p":"d","s":"CU Spawn Returns","kind":"dot","x":25,"y":1180},{"p":"d","s":"CU Spawn Returns","kind":"dot","x":60,"y":1010},{"p":"d","s":"CU Spawn Returns","kind":"dot","x":110,"y":1030},{"p":"d","s":"CU Spawn Returns","kind":"dot","x":220,"y":1050},{"p":"d","s":"CU Spawn Returns","kind":"dot","x":300,"y":1020},{"p":"d","s":"CU Spawn Returns","kind":"dot","x":520,"y":1060},{"p":"d","s":"CU Spawn Returns","kind":"dot","x":800,"y":1070},{"p":"d","s":"CU Spawn Returns","kind":"dot","x":1100,"y":1090},{"p":"d","s":"CU Spawn Returns","kind":"dot","x":1400,"y":1110},{"p":"d","s":"CU Spawn Returns","kind":"dot","x":1700,"y":1115},{"p":"d","s":"CU Spawn Returns","kind":"dot","x":2000,"y":1120},
{"p":"d","s":"CU Spawn Returns","kind":"dot","x":35,"y":1000},{"p":"d","s":"CU Spawn Returns","kind":"dot","x":75,"y":1025},{"p":"d","s":"CU Spawn Returns","kind":"dot","x":140,"y":1015},{"p":"d","s":"CU Spawn Returns","kind":"dot","x":175,"y":1045},{"p":"d","s":"CU Spawn Returns","kind":"dot","x":260,"y":1035},{"p":"d","s":"CU Spawn Returns","kind":"dot","x":340,"y":1055},{"p":"d","s":"CU Spawn Returns","kind":"dot","x":390,"y":1040},{"p":"d","s":"CU Spawn Returns","kind":"dot","x":460,"y":1065},{"p":"d","s":"CU Spawn Returns","kind":"dot","x":600,"y":1055},{"p":"d","s":"CU Spawn Returns","kind":"dot","x":650,"y":1075},{"p":"d","s":"CU Spawn Returns","kind":"dot","x":900,"y":1080},{"p":"d","s":"CU Spawn Returns","kind":"dot","x":1200,"y":1100}
]},
"bounds":"flush",
"spacing":48,
"hconcat":[
 {
  "width":237,"height":165,
  "title":{"text":"16384 task; 16432 core; 32 gen","font":"Liberation Serif","fontSize":14.5,"fontWeight":"normal","color":"#333333","offset":-1},
  "transform":[{"filter":"datum.p == 'a'"}],
  "mark":{"type":"line","strokeWidth":3.5,"strokeCap":"square"},
  "encoding":{
   "x":{"field":"x","type":"quantitative","scale":{"domain":[-835,17300],"nice":false,"zero":false},"axis":{"values":[0,5000,10000,15000],"format":"d","title":"(a)","titlePadding":31,"labelFont":"Liberation Serif","titleFont":"Liberation Serif"}},
   "y":{"field":"y","type":"quantitative","scale":{"domain":[-1770,29660],"nice":false,"zero":false},"axis":{"values":[0,10000,20000],"format":"d","title":"Time (s)","titlePadding":16,"labelFont":"Liberation Serif","titleFont":"Liberation Serif"}},
   "color":{"field":"s","type":"nominal","scale":{"domain":["DB Bridge Pulls","Scheduler Queues CU","Executor Starts","Executable Starts","Executable Stops","CU Spawn Returns"],"range":["#444444","#1f77b4","#ff7f0e","#2ca02c","#d62728","#9467bd"]},"legend":{"title":null,"orient":"none","legendX":-7,"legendY":-57,"direction":"horizontal","columns":6,"symbolType":"stroke","symbolStrokeWidth":2,"symbolSize":1000,"labelFont":"Liberation Serif","labelFontSize":15.3,"labelOffset":11,"columnPadding":22}},
   "detail":{"field":"g","type":"nominal"}
  }
 },
 {
  "width":237,"height":165,
  "title":{"text":"16384 task; 65584 core; 8 gen","font":"Liberation Serif","fontSize":14.5,"fontWeight":"normal","color":"#333333","offset":-1},
  "transform":[{"filter":"datum.p == 'b'"}],
  "encoding":{
   "y":{"field":"y","type":"quantitative","scale":{"domain":[-483,8088],"nice":false,"zero":false},"axis":{"values":[0,2500,5000,7500],"format":"d","title":null,"labelFont":"Liberation Serif"}},
   "color":{"field":"s","type":"nominal","scale":{"domain":["DB Bridge Pulls","Scheduler Queues CU","Executor Starts","Executable Starts","Executable Stops","CU Spawn Returns"],"range":["#444444","#1f77b4","#ff7f0e","#2ca02c","#d62728","#9467bd"]},"legend":{"title":null,"orient":"none","legendX":-7,"legendY":-57,"direction":"horizontal","columns":6,"symbolType":"stroke","symbolStrokeWidth":2,"symbolSize":1000,"labelFont":"Liberation Serif","labelFontSize":15.3,"labelOffset":11,"columnPadding":22}}
  },
  "layer":[
   {"transform":[{"filter":"datum.kind == 'trend' && datum.s != 'CU Spawn Returns'"}],
    "mark":{"type":"line","strokeWidth":3},
    "encoding":{"x":{"field":"x","type":"quantitative","scale":{"domain":[-835,17300],"nice":false,"zero":false},"axis":{"values":[0,5000,10000,15000],"format":"d","title":"(b)","titlePadding":31,"labelFont":"Liberation Serif","titleFont":"Liberation Serif"}},"detail":{"field":"g","type":"nominal"}}},
   {"transform":[{"filter":"datum.kind == 'trend' && datum.s == 'CU Spawn Returns'"}],
    "mark":{"type":"line","strokeWidth":6.5},
    "encoding":{"x":{"field":"x","type":"quantitative","scale":{"domain":[-835,17300],"nice":false,"zero":false},"axis":null},"detail":{"field":"g","type":"nominal"}}},
   {"transform":[{"filter":"datum.kind == 'dot'"}],
    "mark":{"type":"circle","size":9,"opacity":1},
    "encoding":{"x":{"field":"x","type":"quantitative","scale":{"domain":[-835,17300],"nice":false,"zero":false},"axis":{"orient":"bottom","title":"Task ID","labels":false,"ticks":false,"domain":false,"titleX":244,"titleY":28,"titleBaseline":"top","titleFont":"Liberation Serif"}}}}
  ],
  "resolve":{"axis":{"x":"independent"}}
 },
 {
  "width":238,"height":165,
  "title":{"text":"16384 task; 16432 core; 1st gen","font":"Liberation Serif","fontSize":14.5,"fontWeight":"normal","color":"#333333","offset":-1},
  "transform":[{"filter":"datum.p == 'c'"}],
  "encoding":{
   "x":{"field":"x","type":"quantitative","scale":{"domain":[-28,538],"nice":false,"zero":false},"axis":{"values":[0,200,400],"format":"d","title":"(c)","titlePadding":31,"labelFont":"Liberation Serif","titleFont":"Liberation Serif"}},
   "y":{"field":"y","type":"quantitative","scale":{"domain":[-70,1047],"nice":false,"zero":false},"axis":{"values":[0,500,1000],"format":"d","title":null,"labelFont":"Liberation Serif"}},
   "color":{"field":"s","type":"nominal","scale":{"domain":["DB Bridge Pulls","Scheduler Queues CU","Executor Starts","Executable Starts","Executable Stops","CU Spawn Returns"],"range":["#444444","#1f77b4","#ff7f0e","#2ca02c","#d62728","#9467bd"]},"legend":{"title":null,"orient":"none","legendX":-7,"legendY":-57,"direction":"horizontal","columns":6,"symbolType":"stroke","symbolStrokeWidth":2,"symbolSize":1000,"labelFont":"Liberation Serif","labelFontSize":15.3,"labelOffset":11,"columnPadding":22}}
  },
  "layer":[
   {"transform":[{"filter":"datum.kind == 'trend' && (datum.s == 'DB Bridge Pulls' || datum.s == 'Scheduler Queues CU')"}],"mark":{"type":"line","strokeWidth":3},"encoding":{"detail":{"field":"g","type":"nominal"}}},
   {"transform":[{"filter":"datum.kind == 'trend' && datum.s == 'Executable Starts'"}],"mark":{"type":"line","strokeWidth":4},"encoding":{"detail":{"field":"g","type":"nominal"}}},
   {"transform":[{"filter":"datum.kind == 'trend' && datum.s == 'Executable Stops'"}],"mark":{"type":"line","strokeWidth":7},"encoding":{"detail":{"field":"g","type":"nominal"}}},
   {"transform":[{"filter":"datum.kind == 'trend' && datum.s == 'CU Spawn Returns'"}],"mark":{"type":"line","strokeWidth":5},"encoding":{"detail":{"field":"g","type":"nominal"}}},
   {"transform":[{"filter":"datum.kind == 'dot'"}],"mark":{"type":"circle","size":9,"opacity":1}}
  ]
 },
 {
  "width":238,"height":165,
  "title":{"text":"16384 task; 65584 core; 1st gen","font":"Liberation Serif","fontSize":14.5,"fontWeight":"normal","color":"#333333","offset":-1},
  "transform":[{"filter":"datum.p == 'd'"}],
  "encoding":{
   "x":{"field":"x","type":"quantitative","scale":{"domain":[-110,2157],"nice":false,"zero":false},"axis":{"values":[0,1000,2000],"format":"d","title":"(d)","titlePadding":31,"labelFont":"Liberation Serif","titleFont":"Liberation Serif"}},
   "y":{"field":"y","type":"quantitative","scale":{"domain":[-88,1588],"nice":false,"zero":false},"axis":{"values":[0,500,1000,1500],"format":"d","title":null,"labelFont":"Liberation Serif"}},
   "color":{"field":"s","type":"nominal","scale":{"domain":["DB Bridge Pulls","Scheduler Queues CU","Executor Starts","Executable Starts","Executable Stops","CU Spawn Returns"],"range":["#444444","#1f77b4","#ff7f0e","#2ca02c","#d62728","#9467bd"]},"legend":{"title":null,"orient":"none","legendX":-7,"legendY":-57,"direction":"horizontal","columns":6,"symbolType":"stroke","symbolStrokeWidth":2,"symbolSize":1000,"labelFont":"Liberation Serif","labelFontSize":15.3,"labelOffset":11,"columnPadding":22}}
  },
  "layer":[
   {"transform":[{"filter":"datum.kind == 'trend' && (datum.s == 'DB Bridge Pulls' || datum.s == 'Scheduler Queues CU' || datum.s == 'Executable Starts')"}],"mark":{"type":"line","strokeWidth":3},"encoding":{"detail":{"field":"g","type":"nominal"}}},
   {"transform":[{"filter":"datum.kind == 'trend' && datum.s == 'Executable Stops'"}],"mark":{"type":"line","strokeWidth":5},"encoding":{"detail":{"field":"g","type":"nominal"}}},
   {"transform":[{"filter":"datum.kind == 'trend' && datum.s == 'CU Spawn Returns'"}],"mark":{"type":"line","strokeWidth":8},"encoding":{"detail":{"field":"g","type":"nominal"}}},
   {"transform":[{"filter":"datum.kind == 'dot'"}],"mark":{"type":"circle","size":9,"opacity":1}}
  ]
 }
]
}
